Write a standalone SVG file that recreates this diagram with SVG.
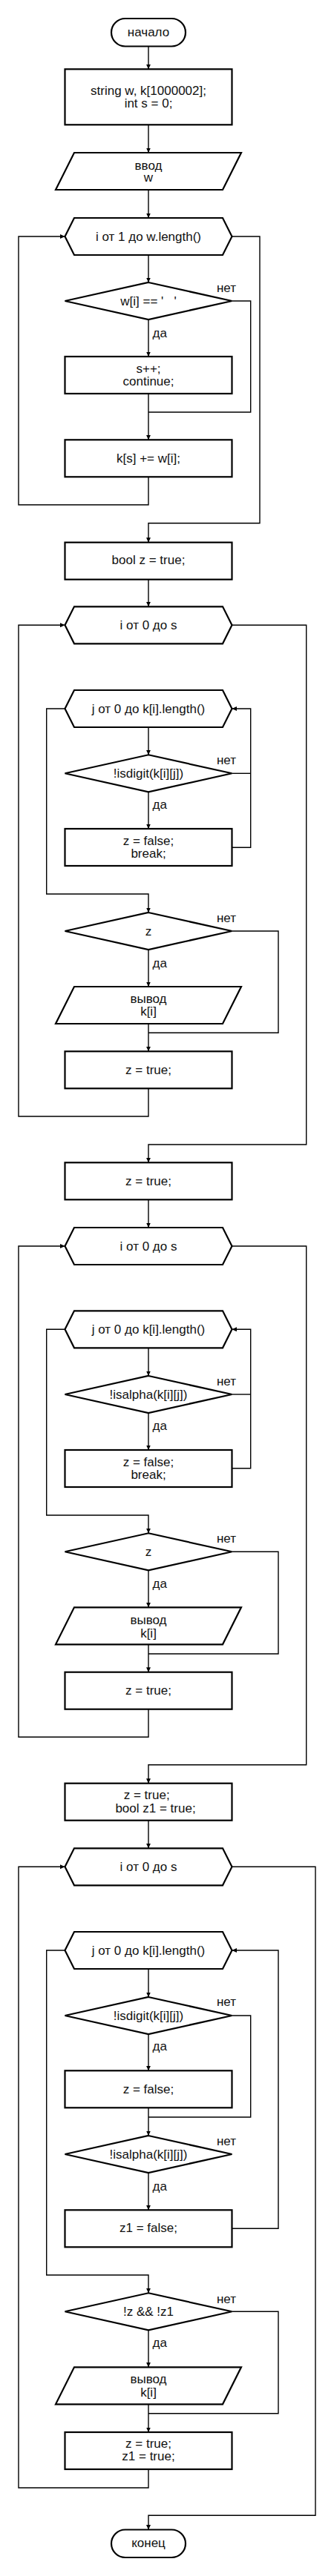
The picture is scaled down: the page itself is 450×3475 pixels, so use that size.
<svg xmlns="http://www.w3.org/2000/svg" width="450" height="3475" viewBox="0 0 450 3475">
<style>
.n{fill:#fff;stroke:#000;stroke-width:2.2}
.c{fill:none;stroke:#000;stroke-width:1.4}
.a{marker-end:url(#ah)}
text{font-family:"Liberation Sans",Arial,sans-serif;font-size:17px;fill:#111}
.t{text-anchor:middle}
.y{text-anchor:start}
</style>
<defs>
<marker id="ah" markerUnits="userSpaceOnUse" markerWidth="8" markerHeight="8" refX="6.5" refY="3" orient="auto">
<path d="M0,0 L6.5,3 L0,6 z" fill="#000"/>
</marker>
</defs>
<rect width="450" height="3475" fill="#fff"/>
<g id="connectors">
<path class="c a" d="M200,62.5 V93.3"/>
<path class="c a" d="M200,168.3 V206"/>
<path class="c a" d="M200,256 V294"/>
<path class="c a" d="M200,344 V381"/>
<path class="c a" d="M200,431 V481"/>
<path class="c a" d="M200,531 V593.3"/>
<path class="c" d="M312.5,406 H337.7 V556 H200"/>
<path class="c a" d="M200,643.3 V681 H25 V319 H87.5"/>
<path class="c a" d="M312.5,319 H350 V705.7 H200 V731.7"/>
<path class="c a" d="M200,781 V818.3"/>

<path class="c a" d="M200,981 V1018.3"/>
<path class="c a" d="M200,1068.3 V1118"/>
<path class="c" d="M312.5,1043.3 H337.7"/>
<path class="c a" d="M312.5,1143.3 H337.7 V956 H312.5"/>
<path class="c a" d="M87.5,956 H62.7 V1206 H200 V1231"/>
<path class="c a" d="M200,1281 V1331"/>
<path class="c" d="M312.5,1256 H375 V1393.3 H200"/>
<path class="c a" d="M200,1381 V1418.3"/>
<path class="c a" d="M200,1468.3 V1506 H25 V843.3 H87.5"/>
<path class="c a" d="M312.5,843.3 H412.7 V1544 H200 V1568.3"/>
<path class="c a" d="M200,1618.3 V1656"/>

<path class="c a" d="M200,1818.3 V1856"/>
<path class="c a" d="M200,1906 V1956"/>
<path class="c" d="M312.5,1881 H337.7"/>
<path class="c a" d="M312.5,1980.7 H337.7 V1793.3 H312.5"/>
<path class="c a" d="M87.5,1793.3 H62.7 V2044 H200 V2068.3"/>
<path class="c a" d="M200,2118.3 V2168.3"/>
<path class="c" d="M312.5,2093.3 H375 V2231 H200"/>
<path class="c a" d="M200,2218.3 V2255.7"/>
<path class="c a" d="M200,2305.7 V2343.3 H25 V1681 H87.5"/>
<path class="c a" d="M312.5,1681 H412.7 V2380.7 H200 V2405.7"/>
<path class="c a" d="M200,2455.7 V2493.3"/>

<path class="c a" d="M200,2656 V2694"/>
<path class="c a" d="M200,2744 V2793.3"/>
<path class="c" d="M312.5,2719 H337.7 V2856 H200"/>
<path class="c a" d="M200,2843.3 V2881"/>
<path class="c a" d="M200,2931 V2981.3"/>
<path class="c a" d="M312.5,3006.3 H375 V2631 H312.5"/>
<path class="c a" d="M87.5,2631 H62.7 V3069 H200 V3093.3"/>
<path class="c a" d="M200,3143.3 V3193.3"/>
<path class="c" d="M312.5,3118.3 H375 V3255.7 H200"/>
<path class="c a" d="M200,3243.3 V3281"/>
<path class="c a" d="M200,3331 V3356 H25 V2518.3 H87.5"/>
<path class="c a" d="M312.5,2518.3 H425 V3393.3 H200 V3412.5"/>
</g>

<g id="labels">
<text class="t" x="305" y="394">нет</text>
<text class="y" x="205.5" y="455">да</text>
<text class="t" x="305" y="1031">нет</text>
<text class="y" x="205.5" y="1091">да</text>
<text class="t" x="305" y="1244">нет</text>
<text class="y" x="205.5" y="1305">да</text>
<text class="t" x="305" y="1869">нет</text>
<text class="y" x="205.5" y="1929">да</text>
<text class="t" x="305" y="2081">нет</text>
<text class="y" x="205.5" y="2142">да</text>
<text class="t" x="305" y="2706">нет</text>
<text class="y" x="205.5" y="2766">да</text>
<text class="t" x="305" y="2894">нет</text>
<text class="y" x="205.5" y="2955">да</text>
<text class="t" x="305" y="3107">нет</text>
<text class="y" x="205.5" y="3166">да</text>
</g>

<g id="start"><rect class="n" x="150" y="25" width="100" height="37.5" rx="18.75"/><text class="t" x="200" y="49">начало</text></g>
<g id="init"><rect class="n" x="87.5" y="93.3" width="225" height="75"/><text class="t" x="200" y="127.5">string w, k[1000002];</text><text class="t" x="200" y="145">int s = 0;</text></g>
<g id="input"><polygon class="n" points="100,206 325,206 300,256 75,256"/><text class="t" x="200" y="228.5">ввод</text><text class="t" x="200" y="245">w</text></g>
<g id="loop1"><polygon class="n" points="87.5,319 100,294 300,294 312.5,319 300,344 100,344"/><text class="t" x="200" y="325">i от 1 до w.length()</text></g>
<g id="cond1"><polygon class="n" points="200,381 312.5,406 200,431 87.5,406"/><text class="t" x="200" y="412">w[i] == '&#160;&#160;&#160;'</text></g>
<g id="inc"><rect class="n" x="87.5" y="481" width="225" height="50"/><text class="t" x="200" y="502.5">s++;</text><text class="t" x="200" y="520">continue;</text></g>
<g id="append"><rect class="n" x="87.5" y="593.3" width="225" height="50"/><text class="t" x="200" y="624">k[s] += w[i];</text></g>
<g id="boolz"><rect class="n" x="87.5" y="731.7" width="225" height="50"/><text class="t" x="200" y="761">bool z = true;</text></g>

<g id="loop2"><polygon class="n" points="87.5,843.3 100,818.3 300,818.3 312.5,843.3 300,868.3 100,868.3"/><text class="t" x="200" y="849.3">i от 0 до s</text></g>
<g id="loop2j"><polygon class="n" points="87.5,956 100,931 300,931 312.5,956 300,981 100,981"/><text class="t" x="200" y="962">j от 0 до k[i].length()</text></g>
<g id="cond2"><polygon class="n" points="200,1018.3 312.5,1043.3 200,1068.3 87.5,1043.3"/><text class="t" x="200" y="1049.3">!isdigit(k[i][j])</text></g>
<g id="brk1"><rect class="n" x="87.5" y="1118" width="225" height="50"/><text class="t" x="200" y="1140">z = false;</text><text class="t" x="200" y="1157">break;</text></g>
<g id="cond3"><polygon class="n" points="200,1231 312.5,1256 200,1281 87.5,1256"/><text class="t" x="200" y="1262">z</text></g>
<g id="out1"><polygon class="n" points="100,1331 325,1331 300,1381 75,1381"/><text class="t" x="200" y="1352.7">вывод</text><text class="t" x="200" y="1370.3">k[i]</text></g>
<g id="reset1"><rect class="n" x="87.5" y="1418.3" width="225" height="50"/><text class="t" x="200" y="1449.3">z = true;</text></g>
<g id="reset2"><rect class="n" x="87.5" y="1568.3" width="225" height="50"/><text class="t" x="200" y="1599.3">z = true;</text></g>

<g id="loop3"><polygon class="n" points="87.5,1681 100,1656 300,1656 312.5,1681 300,1706 100,1706"/><text class="t" x="200" y="1687">i от 0 до s</text></g>
<g id="loop3j"><polygon class="n" points="87.5,1793.3 100,1768.3 300,1768.3 312.5,1793.3 300,1818.3 100,1818.3"/><text class="t" x="200" y="1799.3">j от 0 до k[i].length()</text></g>
<g id="cond4"><polygon class="n" points="200,1856 312.5,1881 200,1906 87.5,1881"/><text class="t" x="200" y="1887">!isalpha(k[i][j])</text></g>
<g id="brk2"><rect class="n" x="87.5" y="1956" width="225" height="50"/><text class="t" x="200" y="1977.7">z = false;</text><text class="t" x="200" y="1995">break;</text></g>
<g id="cond5"><polygon class="n" points="200,2068.3 312.5,2093.3 200,2118.3 87.5,2093.3"/><text class="t" x="200" y="2099.3">z</text></g>
<g id="out2"><polygon class="n" points="100,2168.3 325,2168.3 300,2218.3 75,2218.3"/><text class="t" x="200" y="2191">вывод</text><text class="t" x="200" y="2208.7">k[i]</text></g>
<g id="reset3"><rect class="n" x="87.5" y="2255.7" width="225" height="50"/><text class="t" x="200" y="2286">z = true;</text></g>
<g id="reset4"><rect class="n" x="87.5" y="2405.7" width="225" height="50"/><text class="t" x="197.7" y="2427">z = true;</text><text class="t" x="209.5" y="2444.5">bool z1 = true;</text></g>

<g id="loop4"><polygon class="n" points="87.5,2518.3 100,2493.3 300,2493.3 312.5,2518.3 300,2543.3 100,2543.3"/><text class="t" x="200" y="2524.3">i от 0 до s</text></g>
<g id="loop4j"><polygon class="n" points="87.5,2631 100,2606 300,2606 312.5,2631 300,2656 100,2656"/><text class="t" x="200" y="2637">j от 0 до k[i].length()</text></g>
<g id="cond6"><polygon class="n" points="200,2694 312.5,2719 200,2744 87.5,2719"/><text class="t" x="200" y="2725">!isdigit(k[i][j])</text></g>
<g id="setz"><rect class="n" x="87.5" y="2793.3" width="225" height="50"/><text class="t" x="200" y="2824.3">z = false;</text></g>
<g id="cond7"><polygon class="n" points="200,2881 312.5,2906 200,2931 87.5,2906"/><text class="t" x="200" y="2912">!isalpha(k[i][j])</text></g>
<g id="setz1"><rect class="n" x="87.5" y="2981.3" width="225" height="50"/><text class="t" x="200" y="3011">z1 = false;</text></g>
<g id="cond8"><polygon class="n" points="200,3093.3 312.5,3118.3 200,3143.3 87.5,3118.3"/><text class="t" x="200" y="3124.3">!z &amp;&amp; !z1</text></g>
<g id="out3"><polygon class="n" points="100,3193.3 325,3193.3 300,3243.3 75,3243.3"/><text class="t" x="200" y="3215">вывод</text><text class="t" x="200" y="3232.7">k[i]</text></g>
<g id="reset5"><rect class="n" x="87.5" y="3281" width="225" height="50"/><text class="t" x="200" y="3301.7">z = true;</text><text class="t" x="200" y="3319.3">z1 = true;</text></g>
<g id="end"><rect class="n" x="150" y="3412.5" width="100" height="37.5" rx="18.75"/><text class="t" x="200" y="3436">конец</text></g>
</svg>
